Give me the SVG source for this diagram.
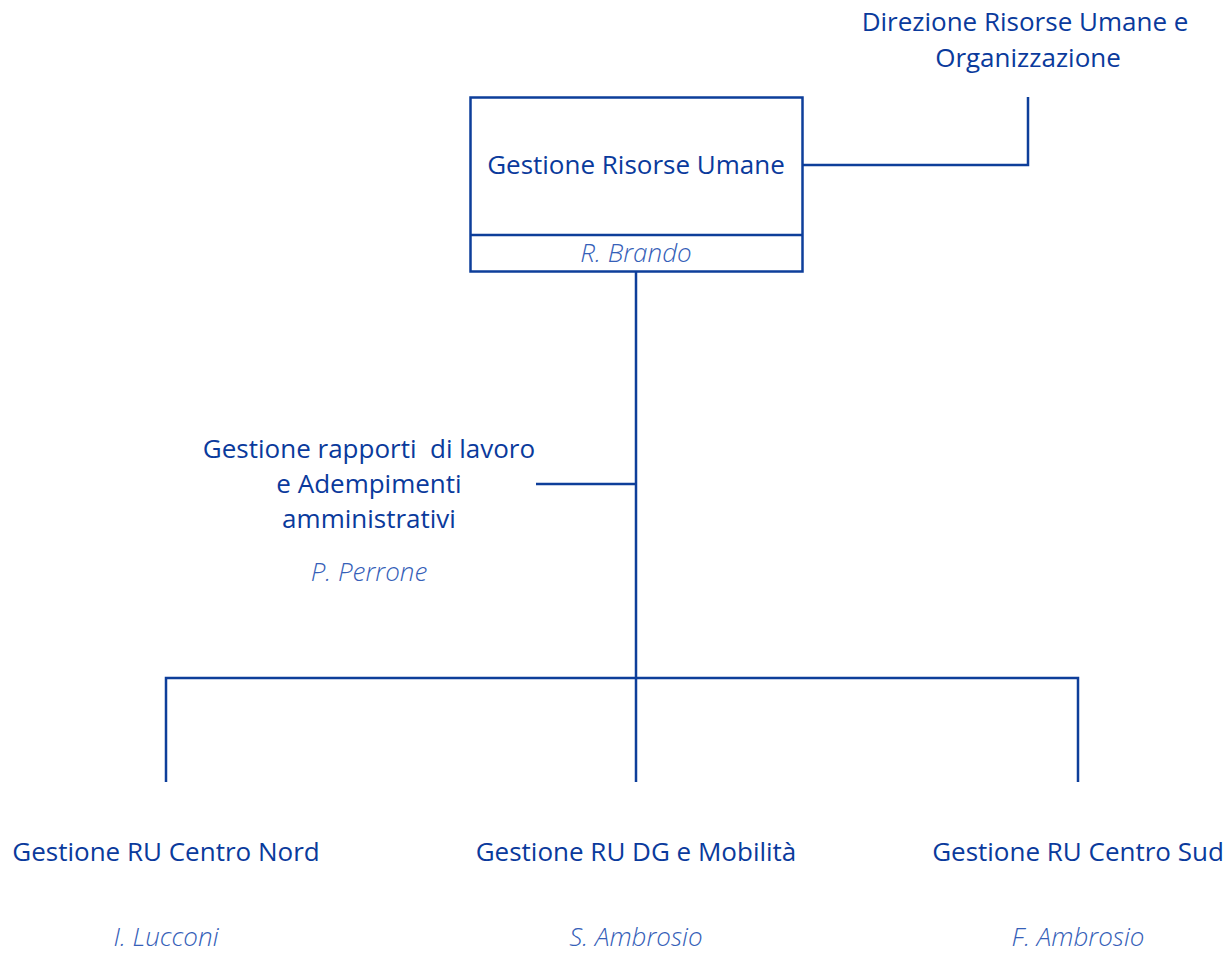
<svg xmlns="http://www.w3.org/2000/svg" width="1226" height="953" viewBox="0 0 1226 953">
<style>
.t{font-family:"Open Sans","Liberation Sans",sans-serif;font-size:26px;fill:#0a3a9c;text-anchor:middle;white-space:pre}
.n{font-family:"Open Sans","Liberation Sans",sans-serif;font-size:26px;font-style:italic;fill:#3560b8;text-anchor:middle;font-weight:300}
.c{fill:none;stroke:#0d3e9a;stroke-width:2.5}
.box{fill:#fff;stroke:#0d3e9a;stroke-width:2.5}
</style>
<rect width="1226" height="953" fill="#fff"/>
<g id="connectors">
<path class="c" d="M636 272V782M166 782V678H1078V782M536 484H636M803 165H1028V97"/>
</g>
<g id="gru">
<rect class="box" x="470.5" y="97.5" width="332" height="174"/>
<line class="c" x1="470" y1="235" x2="803" y2="235" stroke-width="3.5"/>
<text class="t" x="636" y="174">Gestione Risorse Umane</text>
<text class="n" x="636" y="262">R. Brando</text>
</g>
<g id="dir">
<text class="t" x="1025" y="31">Direzione Risorse Umane e</text>
<text class="t" x="1028" y="67">Organizzazione</text>
</g>
<g id="rapporti">
<text class="t" x="369" y="458" xml:space="preserve">Gestione rapporti  di lavoro</text>
<text class="t" x="369" y="493">e Adempimenti</text>
<text class="t" x="369" y="528">amministrativi</text>
<text class="n" x="369" y="581">P. Perrone</text>
</g>
<g id="nord">
<text class="t" x="166" y="861">Gestione RU Centro Nord</text>
<text class="n" x="166" y="946">I. Lucconi</text>
</g>
<g id="dg">
<text class="t" x="636" y="861">Gestione RU DG e Mobilità</text>
<text class="n" x="636" y="946">S. Ambrosio</text>
</g>
<g id="sud">
<text class="t" x="1078" y="861">Gestione RU Centro Sud</text>
<text class="n" x="1078" y="946">F. Ambrosio</text>
</g>
</svg>
